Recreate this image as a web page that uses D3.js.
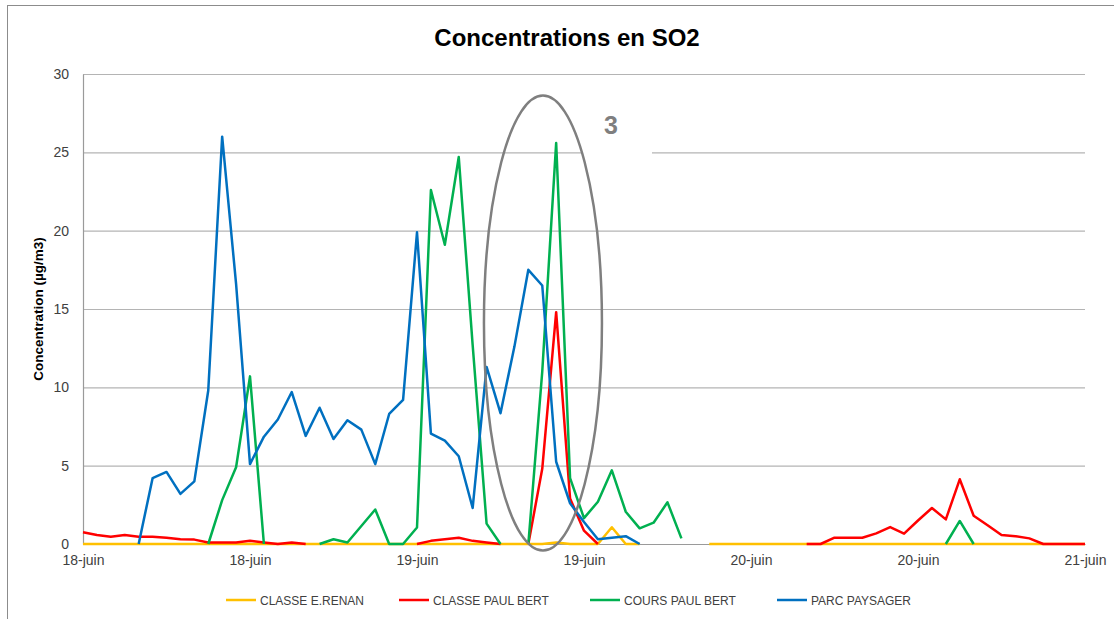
<!DOCTYPE html>
<html>
<head>
<meta charset="utf-8">
<script src="https://cdn.jsdelivr.net/npm/d3@7"></script>
<style>
  body { margin: 0; background: #fff; }
  svg { display: block; font-family: "Liberation Sans", Arial, sans-serif; }
</style>
</head>
<body>
<script>
// hourly values, 18-juin 00h -> 21-juin 00h (73 points), null = no data
const hours = d3.range(73);

const renan = [0,0,0,0,0,0,0,0,0,0, 0,0,0,0,0,0,0,0,0,0,
  0,0,0,0,0,0,0,0,0,0, 0,0,0,0,0.1,0,0,0,1.07,0,
  0,null,null,null,null,0,0,0,0,0, 0,0,0,0,0,0,0,0,0,0,
  0,0,0,0,0,0,0,0,0,0, 0,0,0];

const classePaulBert = [0.75,0.57,0.47,0.57,0.47,0.47,0.4,0.3,0.28,0.1, 0.1,0.1,0.2,0.1,0,0.1,0,null,null,null,
  null,null,null,null,0,0.2,0.3,0.4,0.2,0.1, 0,null,0,4.8,14.8,2.9,0.85,0,null,null,
  null,null,null,null,null,null,null,null,null,null, null,null,0,0,0.4,0.4,0.4,0.68,1.08,0.66,
  1.5,2.3,1.57,4.13,1.8,1.2,0.57,0.5,0.36,0, 0,0,0];

const coursPaulBert = [null,null,null,null,null,null,null,null,null,0, 2.8,4.9,10.7,0,null,null,null,0,0.3,0.1,
  1.15,2.2,0,0,1.05,22.6,19.1,24.7,12.7,1.3, 0,null,0,11,25.6,4.2,1.65,2.7,4.7,2.06,
  1.0,1.36,2.66,0.36,null,null,null,null,null,null, null,null,null,null,null,null,null,null,null,null,
  null,null,0,1.47,0,null,null,null,null,null, null,null,null];

const parcPaysager = [null,null,null,null,0,4.2,4.6,3.2,4.0,9.8, 26.0,16.6,5.1,6.85,7.95,9.7,6.9,8.7,6.7,7.9,
  7.3,5.1,8.3,9.2,19.9,7.05,6.6,5.6,2.3,11.3, 8.35,12.6,17.5,16.5,5.25,2.6,1.4,0.3,0.4,0.5,
  0,null,null,null,null,null,null,null,null,null, null,null,null,null,null,null,null,null,null,null,
  null,null,null,null,null,null,null,null,null,null, null,null,null];

const seriesNames = ["CLASSE E.RENAN", "CLASSE PAUL BERT", "COURS PAUL BERT", "PARC PAYSAGER"];
const seriesColors = ["#FFC000", "#FF0000", "#00B050", "#0070C0"];
const xTickHours = [0, 12, 24, 36, 48, 60, 72];
const xTickLabels = ["18-juin", "18-juin", "19-juin", "19-juin", "20-juin", "20-juin", "21-juin"];
const yTicks = [0, 5, 10, 15, 20, 25, 30];

const width = 1114, height = 619;
const margin = { left: 83, right: 29, top: 74, bottom: 75 };

const svg = d3.select("body").append("svg")
    .attr("width", width).attr("height", height);

// outer chart border
svg.append("rect")
    .attr("x", 7.5).attr("y", 5.5)
    .attr("width", 1200).attr("height", 700)
    .attr("fill", "none").attr("stroke", "#8c8c8c");

var x = d3.scaleLinear().domain([0, 72]).range([margin.left, width - margin.right]);
var y = d3.scaleLinear().domain([0, 30]).range([height - margin.bottom, margin.top]);

// gridlines
svg.append("g")
    .selectAll("line")
    .data(yTicks.slice(1))
    .enter().append("line")
    .attr("x1", x(0)).attr("x2", x(72))
    .attr("y1", function (d) { return y(d) + 0.5; })
    .attr("y2", function (d) { return y(d) + 0.5; })
    .attr("stroke", "#b4b4b4").attr("stroke-width", 1.2);

// y axis
var yAxis = svg.append("g")
    .attr("transform", "translate(" + x(0) + ",0)")
    .call(d3.axisLeft(y).tickValues(yTicks).tickSize(0).tickPadding(14));
yAxis.select(".domain").attr("stroke", "#9a9a9a").attr("stroke-width", 1.2);
yAxis.selectAll("text").attr("font-size", "14px").attr("fill", "#404040")
    .attr("font-family", "Liberation Sans, Arial, sans-serif");

// x axis
var xAxis = svg.append("g")
    .attr("transform", "translate(0," + y(0) + ")")
    .call(d3.axisBottom(x).tickValues(xTickHours).tickSize(0).tickPadding(11)
        .tickFormat(function (d, i) { return xTickLabels[i]; }));
xAxis.select(".domain").attr("stroke", "#9a9a9a").attr("stroke-width", 1.2);
xAxis.selectAll("text").attr("font-size", "14px").attr("fill", "#404040")
    .attr("font-family", "Liberation Sans, Arial, sans-serif");

// series lines
const allSeries = [renan, classePaulBert, coursPaulBert, parcPaysager];

var line = d3.line()
    .defined(function (d) { return d[1] !== null; })
    .x(function (d) { return x(d[0]); })
    .y(function (d) { return y(d[1]); });

allSeries.forEach(function (vals, k) {
    svg.append("path")
        .datum(hours.map(function (h) { return [h, vals[h]]; }))
        .attr("d", line)
        .attr("fill", "none")
        .attr("stroke", seriesColors[k])
        .attr("stroke-width", 2.5)
        .attr("stroke-linejoin", "round");
});

// annotation "3" with white box, then ellipse
svg.append("rect")
    .attr("x", 582).attr("y", 100).attr("width", 70).attr("height", 58)
    .attr("fill", "#fff");

svg.append("ellipse")
    .attr("cx", x(33.05)).attr("cy", y(14.1))
    .attr("rx", 59).attr("ry", 227.5)
    .attr("fill", "none").attr("stroke", "#7f7f7f").attr("stroke-width", 2.5);

svg.append("text")
    .attr("x", 611).attr("y", 134)
    .attr("text-anchor", "middle")
    .attr("font-size", "25px").attr("font-weight", "bold")
    .attr("fill", "#7f7f7f")
    .text("3");

// title
svg.append("text")
    .attr("x", 567).attr("y", 46)
    .attr("text-anchor", "middle")
    .attr("font-size", "24px").attr("font-weight", "bold")
    .attr("fill", "#000")
    .text("Concentrations en SO2");

// y axis title
svg.append("text")
    .attr("transform", "translate(43,309) rotate(-90)")
    .attr("text-anchor", "middle")
    .attr("font-size", "13.5px").attr("font-weight", "bold")
    .attr("fill", "#000")
    .text("Concentration (µg/m3)");

// legend
const legendX = [226, 399, 590, 777];
var legend = svg.append("g");
seriesNames.forEach(function (name, k) {
    legend.append("line")
        .attr("x1", legendX[k]).attr("x2", legendX[k] + 30)
        .attr("y1", 600).attr("y2", 600)
        .attr("stroke", seriesColors[k]).attr("stroke-width", 2.5);
    legend.append("text")
        .attr("x", legendX[k] + 34).attr("y", 604.5)
        .attr("font-size", "12px").attr("fill", "#404040")
        .text(name);
});
</script>
</body>
</html>
